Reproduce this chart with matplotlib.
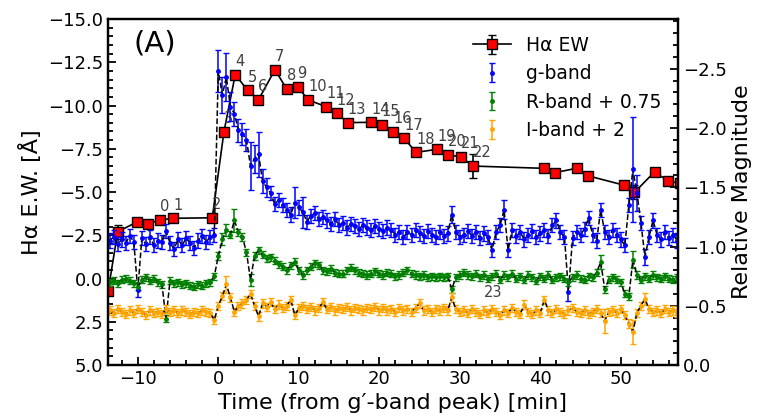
import numpy as np
import matplotlib.pyplot as plt
from matplotlib.ticker import MultipleLocator

# H-alpha equivalent width per spectrum (left axis, Angstrom)
ew_time = [-13.7, -12.5, -10.1, -8.7,
           -7.3, -5.6, -0.75, 0.7, 2.1, 3.65, 4.97, 7.04, 8.5, 9.85, 11.2,
           13.4, 14.7, 16.1, 18.97, 20.3, 21.7, 23.1, 24.56, 27.2, 28.5,
           30.15, 31.6,
           40.4, 41.8, 44.5, 45.9, 50.35, 51.7, 54.2, 55.8, 57.3]
ew_value = [0.75, -2.7, -3.27, -3.17,
            -3.38, -3.48, -3.51, -8.48, -11.78, -10.88, -10.32, -12.07, -10.95,
            -11.07, -10.32, -9.93, -9.55, -9.01, -9.03, -8.87, -8.49, -8.1,
            -7.29, -7.47, -7.14, -7.04, -6.5,
            -6.37, -6.12, -6.37, -5.94, -5.4, -4.98, -6.17, -5.65, -5.5]
ew_err = [0.2, 0.42, 0.2, 0.2,
          0.2, 0.2, 0.2, 0.2, 0.2, 0.2, 0.2, 0.2, 0.2, 0.2, 0.2, 0.2, 0.2,
          0.2, 0.2, 0.2, 0.2, 0.2, 0.2, 0.2, 0.2, 0.2, 0.67,
          0.2, 0.2, 0.2, 0.2, 0.2, 0.4, 0.2, 0.2, 0.2]
spec_num = [None] * 4 + [str(n) for n in range(23)] + [None] * 9
extra_label = ('23', 33.0, 1.05)

# photometry, one point every 0.5 min starting at -13.5 min
t_start = -13.5
cadence = 0.5

g_mag = [
    -1.05, -1.08, -1.02, -1.06, -1.03, -1.09, -1.04, -0.63, -1.07, -1.02,
    -1.08, -1.01, -1.05, -1.04, -1.13, -1.03, -0.98, -1.06, -1.01, -1.07,
    -1.03, -0.99, -1.05, -1.09, -1.04, -1.08, -1.10,
    -2.48, -2.28, -2.43, -2.18, -2.12, -1.98, -1.95, -1.90, -1.68, -1.74,
    -1.78, -1.55, -1.50, -1.45, -1.36, -1.39, -1.35, -1.31, -1.27, -1.37,
    -1.33,
    -1.29, -1.21, -1.26, -1.28, -1.23, -1.25, -1.22, -1.19, -1.23, -1.18,
    -1.20, -1.16, -1.19, -1.17, -1.15, -1.18, -1.16, -1.14, -1.17, -1.15,
    -1.13, -1.16, -1.14, -1.10, -1.12, -1.08, -1.12, -1.10, -1.14, -1.11,
    -1.09, -1.13, -1.10, -1.08, -1.12, -1.09, -1.11, -1.27, -1.12, -1.08,
    -1.10, -1.13, -1.09, -1.12, -1.07, -1.11, -1.08, -0.97, -1.12, -1.18,
    -1.31, -0.97, -1.14, -1.09, -1.12, -1.06, -1.10, -1.13, -1.08, -1.11,
    -1.14, -1.09, -1.18, -1.22, -1.12, -1.08, -0.62, -1.07, -1.12, -1.10,
    -1.15, -1.24, -1.10, -1.05, -1.31, -1.12, -1.08, -1.14, -1.10, -1.06,
    -1.01, -1.35, -1.65, -1.45, -1.20, -0.91, -1.08, -1.22, -1.10, -1.06,
    -1.12, -1.07, -1.10, -1.05]

r_mag = [
    -0.70, -0.71, -0.69, -0.72, -0.73, -0.71, -0.69, -0.66, -0.72, -0.74,
    -0.71, -0.73, -0.70, -0.68, -0.39, -0.71, -0.69, -0.70, -0.68, -0.69,
    -0.67, -0.66, -0.68, -0.67, -0.69, -0.70, -0.75,
    -0.92, -1.06, -1.14, -1.10, -1.22, -1.12, -1.08, -0.95, -0.72, -0.92,
    -0.97, -0.93, -0.90, -0.91, -0.88, -0.85, -0.83, -0.80, -0.84, -0.87,
    -0.80,
    -0.76, -0.80, -0.83, -0.86, -0.84, -0.80, -0.79, -0.81, -0.78, -0.77,
    -0.77, -0.80, -0.82, -0.80, -0.78, -0.77, -0.76, -0.77, -0.79, -0.77,
    -0.76, -0.78, -0.77, -0.75, -0.76, -0.78, -0.80, -0.77, -0.76, -0.75,
    -0.76, -0.74, -0.75, -0.74, -0.75, -0.74, -0.75, -0.64, -0.74, -0.76,
    -0.78, -0.76, -0.75, -0.77, -0.74, -0.76, -0.73, -0.75, -0.77, -0.72,
    -0.76, -0.74, -0.77, -0.73, -0.75, -0.72, -0.76, -0.74, -0.71, -0.75,
    -0.73, -0.76, -0.72, -0.74, -0.75, -0.73, -0.70, -0.74, -0.76, -0.73,
    -0.72, -0.75, -0.74, -0.78, -0.87, -0.64, -0.72, -0.74, -0.72, -0.70,
    -0.60, -0.58, -0.89, -0.76, -0.72, -0.75, -0.73, -0.76, -0.74, -0.73,
    -0.75, -0.73, -0.72, -0.74]

i_mag = [
    -0.46, -0.44, -0.47, -0.45, -0.43, -0.46, -0.44, -0.47, -0.45, -0.42,
    -0.46, -0.44, -0.45, -0.43, -0.47, -0.45, -0.46, -0.44, -0.46, -0.45,
    -0.43, -0.45, -0.44, -0.46, -0.45, -0.44, -0.38,
    -0.50, -0.58, -0.68, -0.57, -0.45, -0.50, -0.52, -0.55, -0.60, -0.50,
    -0.41, -0.52, -0.49, -0.53, -0.47, -0.51, -0.48, -0.50, -0.55, -0.42,
    -0.48,
    -0.50, -0.47, -0.49, -0.46, -0.48, -0.53, -0.47, -0.49, -0.46, -0.48,
    -0.47, -0.49, -0.46, -0.48, -0.47, -0.46, -0.48, -0.47, -0.49, -0.46,
    -0.48, -0.46, -0.47, -0.45, -0.48, -0.46, -0.47, -0.45, -0.48, -0.52,
    -0.46, -0.47, -0.45, -0.47, -0.46, -0.48, -0.46, -0.57, -0.47, -0.45,
    -0.46, -0.44, -0.47, -0.45, -0.43, -0.46, -0.44, -0.47, -0.45, -0.42,
    -0.46, -0.44, -0.48, -0.45, -0.43, -0.51, -0.45, -0.43, -0.46, -0.44,
    -0.55, -0.46, -0.44, -0.47, -0.45, -0.43, -0.46, -0.48, -0.45, -0.44,
    -0.46, -0.43, -0.45, -0.47, -0.44, -0.37, -0.45, -0.46, -0.44, -0.47,
    -0.42, -0.35, -0.28, -0.44, -0.50, -0.56, -0.47, -0.45, -0.46, -0.44,
    -0.47, -0.45, -0.46, -0.44]

# typical photometric errors and the points with larger ones (time: error)
g_err_typ = 0.06
g_err_big = {0.0: 0.18, 0.5: 0.15, 1.0: 0.2, 1.5: 0.12, 2.0: 0.1, 2.5: 0.1,
             3.0: 0.09, 3.5: 0.09, 4.0: 0.2, 4.5: 0.12, 5.0: 0.19, 5.5: 0.1,
             6.0: 0.08, 9.5: 0.13, 10.5: 0.13, 29.0: 0.07, 35.5: 0.08,
             43.5: 0.08, 51.5: 0.44, 52.0: 0.15, 53.0: 0.07}
r_err_typ = 0.03
r_err_big = {0.5: 0.05, 1.0: 0.05, 2.0: 0.1, 4.0: 0.05, 47.5: 0.06,
             51.5: 0.07}
i_err_typ = 0.035
i_err_big = {1.0: 0.07, 48.0: 0.1, 51.5: 0.1, 53.0: 0.05}


def build_err(n, typ, big):
    err = np.full(n, typ)
    for t, e in big.items():
        err[int(round((t - t_start) / cadence))] = e
    return err


n = len(g_mag)
t_lc = t_start + cadence * np.arange(n)

fig = plt.figure(figsize=(7.57, 4.17), dpi=100)
ax = fig.add_axes([0.1427, 0.1247, 0.7529, 0.8297])
ax2 = ax.twinx()

h_ew = ax.errorbar(ew_time, ew_value, yerr=ew_err, fmt='s-', color='k',
                   mfc='red', mec='k', ms=6.5, mew=1, lw=1.2, capsize=3,
                   label='Hα EW')
for t, v, s in zip(ew_time, ew_value, spec_num):
    if s is not None:
        ax.text(t, v - 0.5, s, fontsize=10.5, color='0.25', ha='left')
ax.text(extra_label[1], extra_label[2], extra_label[0], fontsize=10.5,
        color='0.25', ha='left')

ax.text(0.045, 0.93, '(A)', transform=ax.transAxes, fontsize=21,
        va='center')

bands = [(g_mag, build_err(n, g_err_typ, g_err_big), 'blue', 'g-band'),
         (r_mag, build_err(n, r_err_typ, r_err_big), 'green', 'R-band + 0.75'),
         (i_mag, build_err(n, i_err_typ, i_err_big), 'orange', 'I-band + 2')]
handles = [h_ew]
for mag, err, col, lab in bands:
    h = ax2.errorbar(t_lc, mag, yerr=err, fmt='.', color=col, ms=5,
                     elinewidth=1.1, capsize=2.2, label=lab)
    ax2.plot(t_lc, mag, 'k--', lw=1.1)
    handles.append(h)

ax.set_xlim(-13.7, 57.1)
ax.set_ylim(5, -15)
ax.set_yticks(np.arange(-15, 5.1, 2.5))
ax.xaxis.set_minor_locator(MultipleLocator(2))
ax.yaxis.set_minor_locator(MultipleLocator(0.5))
ax2.set_ylim(0, -2.92)
ax2.set_yticks([-2.5, -2.0, -1.5, -1.0, -0.5, 0.0])
ax2.yaxis.set_minor_locator(MultipleLocator(0.1))

ax.tick_params(which='both', direction='in', labelsize=13, width=1.3,
               top=False, right=False)
ax.tick_params(which='major', length=6)
ax.tick_params(which='minor', length=3.5)
ax2.tick_params(which='both', direction='in', labelsize=13, width=1.3)
ax2.tick_params(which='major', length=6)
ax2.tick_params(which='minor', length=3.5)
for a in (ax, ax2):
    for sp in a.spines.values():
        sp.set_linewidth(1.6)

ax.set_xlabel('Time (from g′-band peak) [min]', fontsize=16)
ax.set_ylabel('Hα E.W. [Å]', fontsize=16)
ax2.set_ylabel('Relative Magnitude', fontsize=16)

ax2.legend(handles, [h.get_label() for h in handles], loc='upper right',
           frameon=False, fontsize=13.5)

fig.savefig('out.png', dpi=100)
